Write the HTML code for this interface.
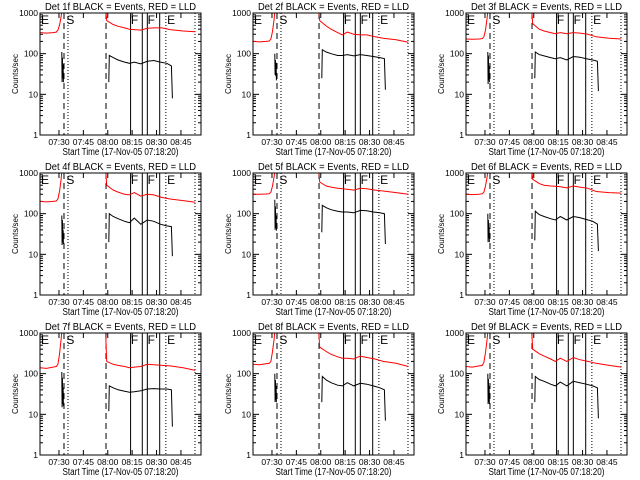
<!DOCTYPE html>
<html><head><meta charset="utf-8"><style>
html,body{margin:0;padding:0;background:#fff;}
svg{display:block;font-family:"Liberation Sans",sans-serif;}
</style></head><body>
<svg id="chart" width="640" height="480" viewBox="0 0 640 480" xmlns="http://www.w3.org/2000/svg"></svg>
<script>
// ---- data (minutes after 07:18:20) ----
const detNames = ["1f","2f","3f","4f","5f","6f","7f","8f","9f"];
const xTickMin = [11.667,26.667,41.667,56.667,71.667,86.667];
const xTickLabels = ["07:30","07:45","08:00","08:15","08:30","08:45"];
const yTickVals = [1,10,100,1000];
const yTickLabels = ["1","10","100","1000"];
const dashedMin = [14.75,40.6];
const dottedMin = [17.2,77.4,95.3];
const solidMin = [55.7,62.9,66.0,73.6];
const markerText = ["E","S","F","F","E"];
const markerMin = [0.6,16.2,55.9,66.2,78.2];
const redPreT = [0,4,8,10,11,12,13,13.8];
const redPostT = [40.2,41,45,48,52,55,58,62,66,70,75,80,88,95.5];
const blackSpikeT = [13.4,13.6,13.8,14.0,14.2,14.4];
const blackT = [42.3,42.6,45,48,52,55,58,62,66,70,74,78,80.8,81.4];
const redPre = [
 [330,320,330,340,380,500,800,1500],
 [200,195,200,205,230,350,700,1500],
 [230,225,230,235,260,380,750,1500],
 [200,195,200,205,230,350,700,1500],
 [300,300,305,310,340,480,800,1500],
 [300,295,300,310,340,480,800,1500],
 [140,135,145,150,170,300,700,1500],
 [170,165,175,180,200,350,700,1500],
 [150,145,155,160,190,330,700,1500]];
const redPost = [
 [1500,650,520,470,430,400,390,380,420,430,430,390,360,345],
 [1500,650,480,400,330,290,340,300,290,290,260,240,220,190],
 [1500,550,400,360,330,310,330,310,330,320,300,260,240,230],
 [1500,500,380,340,300,290,330,270,300,290,250,230,210,190],
 [1500,600,480,450,420,410,400,380,420,410,380,360,330,300],
 [1500,700,550,500,480,470,460,430,480,450,420,350,330,320],
 [1500,200,170,160,150,140,145,150,170,165,160,155,140,120],
 [1500,450,350,300,260,240,240,230,270,250,230,200,180,150],
 [1500,400,310,270,230,200,240,200,250,220,200,180,160,145]];
const blackSpike = [
 [110,20,80,25,55,20],
 [100,30,70,28,60,22],
 [110,18,90,22,50,20],
 [90,17,70,20,40,18],
 [220,40,150,45,90,38],
 [100,20,70,25,45,20],
 [110,15,80,18,45,16],
 [100,20,70,22,50,20],
 [100,18,75,20,50,18]];
const blackVals = [
 [20,90,80,70,62,58,62,56,65,68,62,58,50,8],
 [25,125,110,100,90,90,95,88,95,90,85,80,75,13],
 [25,110,95,88,80,75,80,70,85,82,75,70,65,12],
 [20,100,85,75,65,60,78,55,70,65,55,50,48,9],
 [35,160,140,125,115,110,110,105,120,118,110,105,100,18],
 [22,115,95,85,75,70,85,70,85,80,72,65,55,12],
 [12,50,45,40,37,35,36,38,42,43,42,42,40,5],
 [20,85,70,60,52,50,60,50,58,55,50,45,40,7],
 [20,85,72,65,55,50,62,50,65,60,55,50,45,8]];

const NS="http://www.w3.org/2000/svg";
const svg=document.getElementById('chart');
function mk(tag,attrs,parent){const e=document.createElementNS(NS,tag);for(const k in attrs)e.setAttribute(k,attrs[k]);(parent||svg).appendChild(e);return e;}

for(let p=0;p<9;p++){
 const col=p%3,row=Math.floor(p/3);
 const ox=col*213, oy=row*160;
 const L=ox+40,R=ox+201,T=oy+13,B=oy+135;
 const xs=m=>L+(R-L)*m/99;
 const ys=v=>B-(B-T)*Math.log10(v)/3;
 const g=mk('g',{});
 
 
 const cid='clip'+p;
 const cp=mk('clipPath',{id:cid},g);mk('rect',{x:L,y:T,width:R-L,height:B-T},cp);
 const t=mk('text',{x:(L+R)/2,y:oy+10,'text-anchor':'middle','font-size':'10',textLength:'151',lengthAdjust:'spacingAndGlyphs'},g);
 t.textContent='Det '+detNames[p]+' BLACK = Events, RED = LLD';
 
 
 const yl=mk('text',{x:0,y:0,transform:'translate('+(ox+18)+','+((T+B)/2)+') rotate(-90)','text-anchor':'middle','font-size':'8'},g);
 yl.textContent='Counts/sec';
 
 
 const xl=mk('text',{x:(L+R)/2,y:oy+155,'text-anchor':'middle','font-size':'10',textLength:'116',lengthAdjust:'spacingAndGlyphs'},g);
 xl.textContent='Start Time (17-Nov-05 07:18:20)';
 
 
 // ticks
 for(let i=0;i<xTickMin.length;i++){
  const x=xs(xTickMin[i]);
  mk('line',{x1:x,x2:x,y1:B,y2:B-5,stroke:'#000'},g);
  mk('line',{x1:x,x2:x,y1:T,y2:T+5,stroke:'#000'},g);
  const tl=mk('text',{x:x,y:oy+145,'text-anchor':'middle','font-size':'8.5'},g);
  tl.textContent=xTickLabels[i];
  
  
 }
 for(let i=0;i<yTickVals.length;i++){
  const y=ys(yTickVals[i]);
  mk('line',{x1:L,x2:L+6,y1:y,y2:y,stroke:'#000'},g);
  mk('line',{x1:R,x2:R-6,y1:y,y2:y,stroke:'#000'},g);
  const tl=mk('text',{x:L-2,y:y+3,'text-anchor':'end','font-size':'8.5'},g);
  tl.textContent=yTickLabels[i];
  
  
  if(i<3)for(let k=2;k<10;k++){const yy=ys(yTickVals[i]*k);
   mk('line',{x1:L,x2:L+3,y1:yy,y2:yy,stroke:'#000'},g);
   mk('line',{x1:R,x2:R-3,y1:yy,y2:yy,stroke:'#000'},g);}
 }
 // event lines
 dashedMin.forEach(m=>{const l=mk('line',{x1:xs(m),x2:xs(m),y1:T,y2:B,stroke:'#000','stroke-dasharray':'6,4'},g);});
 dottedMin.forEach(m=>{const l=mk('line',{x1:xs(m),x2:xs(m),y1:T,y2:B,stroke:'#000','stroke-dasharray':'1,2'},g);});
 solidMin.forEach(m=>{const l=mk('line',{x1:xs(m),x2:xs(m),y1:T,y2:B,stroke:'#000'},g);});
 for(let i=0;i<markerText.length;i++){
  const mt=mk('text',{x:xs(markerMin[i]),y:T+11,'font-size':'12'},g);
  mt.textContent=markerText[i];
  
  
 }
 const cg=mk('g',{'clip-path':'url(#'+cid+')'},g);
 function poly(ts,vs,color,name){
  const pts=ts.map((m,i)=>xs(m).toFixed(1)+','+ys(vs[i]).toFixed(1)).join(' ');
  const pl=mk('polyline',{points:pts,fill:'none',stroke:color,'stroke-width':'1'},cg);
  
  
 }
 poly(redPreT,redPre[p],'#ff0000','red-lld-pre');
 poly(redPostT,redPost[p],'#ff0000','red-lld-post');
 poly(blackSpikeT,blackSpike[p],'#000','black-events-spike');
 poly(blackT,blackVals[p],'#000','black-events');
 const box=mk('rect',{x:L,y:T,width:R-L,height:B-T,fill:'none',stroke:'#000'},g);
 
 
}
</script>
</body></html>
